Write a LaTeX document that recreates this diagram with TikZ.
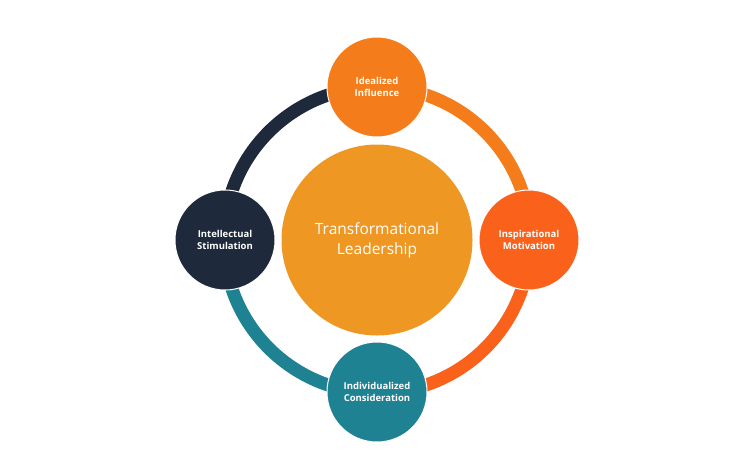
\documentclass[tikz,border=0pt]{standalone}
\usepackage{fontspec}
\setmainfont{Open Sans}
\definecolor{cTop}{HTML}{F47C1A}
\definecolor{cRight}{HTML}{FA621C}
\definecolor{cBottom}{HTML}{1F8293}
\definecolor{cLeft}{HTML}{1E2A3B}
\definecolor{cCenter}{HTML}{EE9722}
\begin{document}
\begin{tikzpicture}[x=1pt,y=-1pt,
  small/.style={circle,minimum size=100pt,inner sep=0pt,draw=white,line width=1pt,text=white,font=\fontsize{9.5}{12.5}\selectfont\bfseries,align=center},
  big/.style={circle,minimum size=191pt,inner sep=0pt,fill=cCenter,text=white,font=\fontsize{15.5}{20}\selectfont,align=center},
  ring/.style={line width=13pt}]
\useasboundingbox (0,0) rectangle (746,458);
\fill[white] (0,0) rectangle (746,458);
\coordinate (O) at (377,240);
\draw[ring,cTop] (O) ++(90:-153) arc[start angle=-90,end angle=0,radius=153];
\draw[ring,cRight] (O) ++(0:153) arc[start angle=0,end angle=90,radius=153];
\draw[ring,cBottom] (O) ++(90:153) arc[start angle=90,end angle=180,radius=153];
\draw[ring,cLeft] (O) ++(180:153) arc[start angle=180,end angle=270,radius=153];
\node[big] (center) at (O) {Transformational\\Leadership};
\node[small,fill=cTop] (top) at (377,87) {Idealized\\Influence};
\node[small,fill=cRight] (right) at (529,240) {Inspirational\\Motivation};
\node[small,fill=cBottom] (bottom) at (377,392) {Individualized\\Consideration};
\node[small,fill=cLeft] (left) at (225,240) {Intellectual\\Stimulation};
\end{tikzpicture}
\end{document}
